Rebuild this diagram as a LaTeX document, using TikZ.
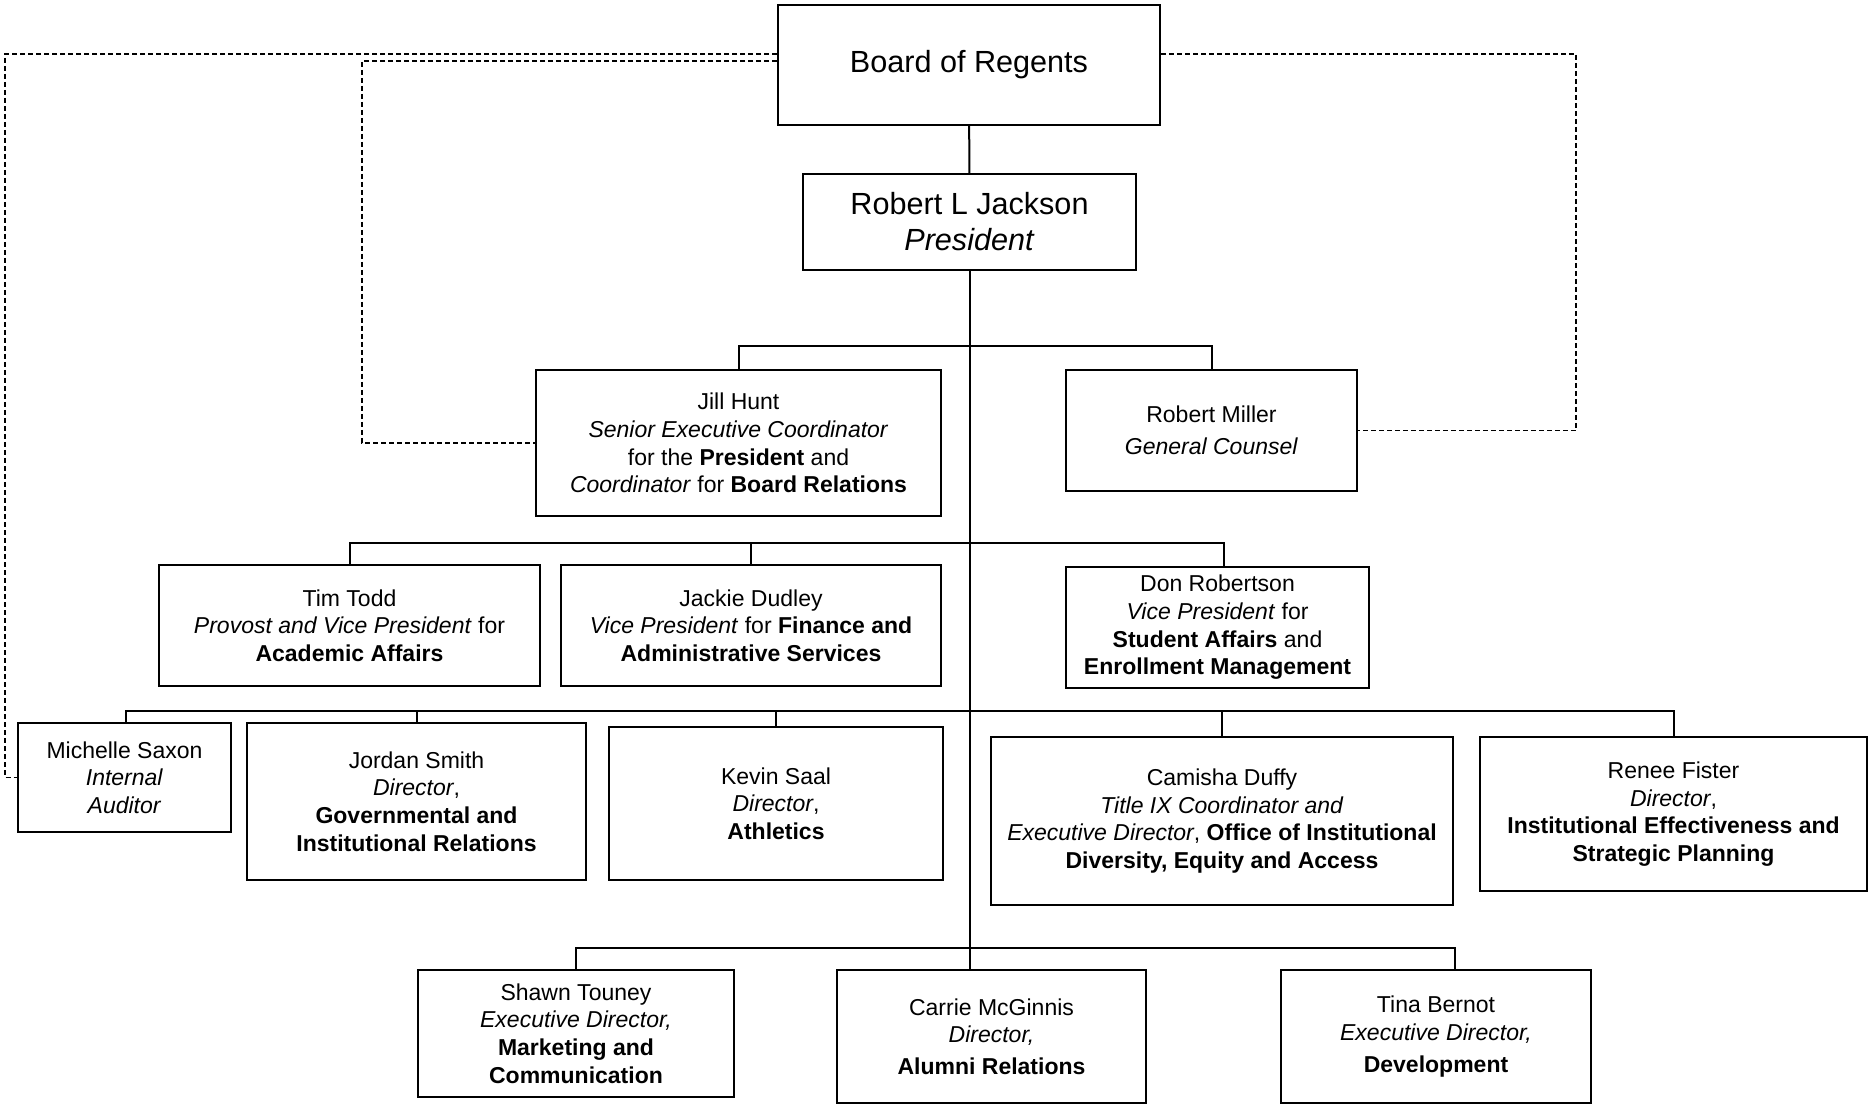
\documentclass[tikz,border=0pt]{standalone}
\usepackage{fontspec}
\setmainfont{Liberation Sans}
\newcommand{\smalltext}{\fontsize{11.5}{13.8}\selectfont}
\newcommand{\bigtext}{\fontsize{15.3}{18}\selectfont}
\begin{document}
\begin{tikzpicture}[x=0.5pt,y=-0.5pt,
    unitbox/.style={draw,line width=1pt,inner sep=0pt,align=center,font=\smalltext},
    topbox/.style={unitbox,font=\bigtext},
    size/.style 2 args={minimum width=#1pt,minimum height=#2pt},
    reports/.style={line width=1pt},
    advises/.style={line width=0.9pt,dash pattern=on 2.5pt off 1.5pt}]
  \useasboundingbox (0,0) rectangle (1873,1106);
      \draw
        (969,65) node[topbox,size={191}{60}] (regents){Board of Regents}
        (969.5,222) node[topbox,size={166.5}{48}] (pres){Robert L Jackson\\ \textit{President}}
        (738.5,443) node[unitbox,size={202.5}{73}] (hunt){Jill Hunt\\ \textit{Senior Executive Coordinator}\\ for the \textbf{President} and\\ \textit{Coordinator} for \textbf{Board Relations}}
        (1211.5,430.5) node[unitbox,size={145.5}{60.5}] (miller){Robert Miller\\[2pt] \textit{General Counsel}}
        (349.5,625.5) node[unitbox,size={190.5}{60.5}] (todd){Tim Todd\\ \textit{Provost and Vice President} for\\ \textbf{Academic Affairs}}
        (751,625.5) node[unitbox,size={190}{60.5}] (dudley){Jackie Dudley\\ \textit{Vice President} for \textbf{Finance and}\\ \textbf{Administrative Services}}
        (1217.5,627.5) node[unitbox,size={151.5}{60.5}] (robertson){Don Robertson\\ \textit{Vice President} for\\ \textbf{Student Affairs} and\\ \textbf{Enrollment Management}}
        (124.5,777.5) node[unitbox,size={106.5}{54.5}] (saxon){Michelle Saxon\\ \textit{Internal}\\ \textit{Auditor}}
        (416.5,801.5) node[unitbox,size={169.5}{78.5}] (smith){Jordan Smith\\ \textit{Director},\\ \textbf{Governmental and}\\ \textbf{Institutional Relations}}
        (776,803.5) node[unitbox,size={167}{76.5}] (saal){Kevin Saal\\ \textit{Director},\\ \textbf{Athletics}}
        (1222,821) node[unitbox,size={231}{84}] (duffy){Camisha Duffy\\ \textit{Title IX Coordinator and}\\ \textit{Executive Director}, \textbf{Office of Institutional}\\ \textbf{Diversity, Equity and Access}}
        (1673.5,814) node[unitbox,size={193.5}{77}] (fister){Renee Fister\\ \textit{Director},\\ \textbf{Institutional Effectiveness and}\\ \textbf{Strategic Planning}}
        (576,1033.5) node[unitbox,size={158}{63.5}] (touney){Shawn Touney\\ \textit{Executive Director,}\\ \textbf{Marketing and}\\ \textbf{Communication}}
        (991.5,1036.5) node[unitbox,size={154.5}{66.5}] (mcginnis){Carrie McGinnis\\ \textit{Director,}\\[2pt] \textbf{Alumni Relations}}
        (1436,1036.5) node[unitbox,size={155}{66.5}] (bernot){Tina Bernot\\ \textit{Executive Director,}\\[2pt] \textbf{Development}};
      \coordinate (bar1) at (970,346);
      \coordinate (bar2) at (970,543);
      \coordinate (bar3) at (970,711);
      \coordinate (bar4) at (970,948);
      \begin{scope}[reports]
        \draw (regents) to (pres);
        \draw (pres.south) to (pres.south |- mcginnis.north);
        \draw (hunt.north) |- (bar1) -| (miller.north);
        \draw (todd.north) |- (bar2) -| ([xshift=3pt]robertson.north);
        \draw (dudley.north) to (dudley.north |- bar2);
        \draw ([xshift=0.75pt]saxon.north) |- (bar3) -| (fister.north);
        \draw (smith.north) to (smith.north |- bar3);
        \draw (saal.north) to (saal.north |- bar3);
        \draw (duffy.north) to (duffy.north |- bar3);
        \draw (touney.north) |- (bar4) -| ([xshift=9.5pt]bernot.north);
      \end{scope}
      \begin{scope}[advises]
        \draw ([yshift=5.5pt]regents.west) -| ([xshift=-6pt]saxon.west) -- (saxon.west);
        \draw ([yshift=2pt]regents.west) -| ([xshift=-86.5pt]hunt.west) -- (hunt.west);
        \draw ([yshift=5.5pt]regents.east) -| ([xshift=109pt]miller.east) -- (miller.east);
      \end{scope}
    \end{tikzpicture}
\end{document}
